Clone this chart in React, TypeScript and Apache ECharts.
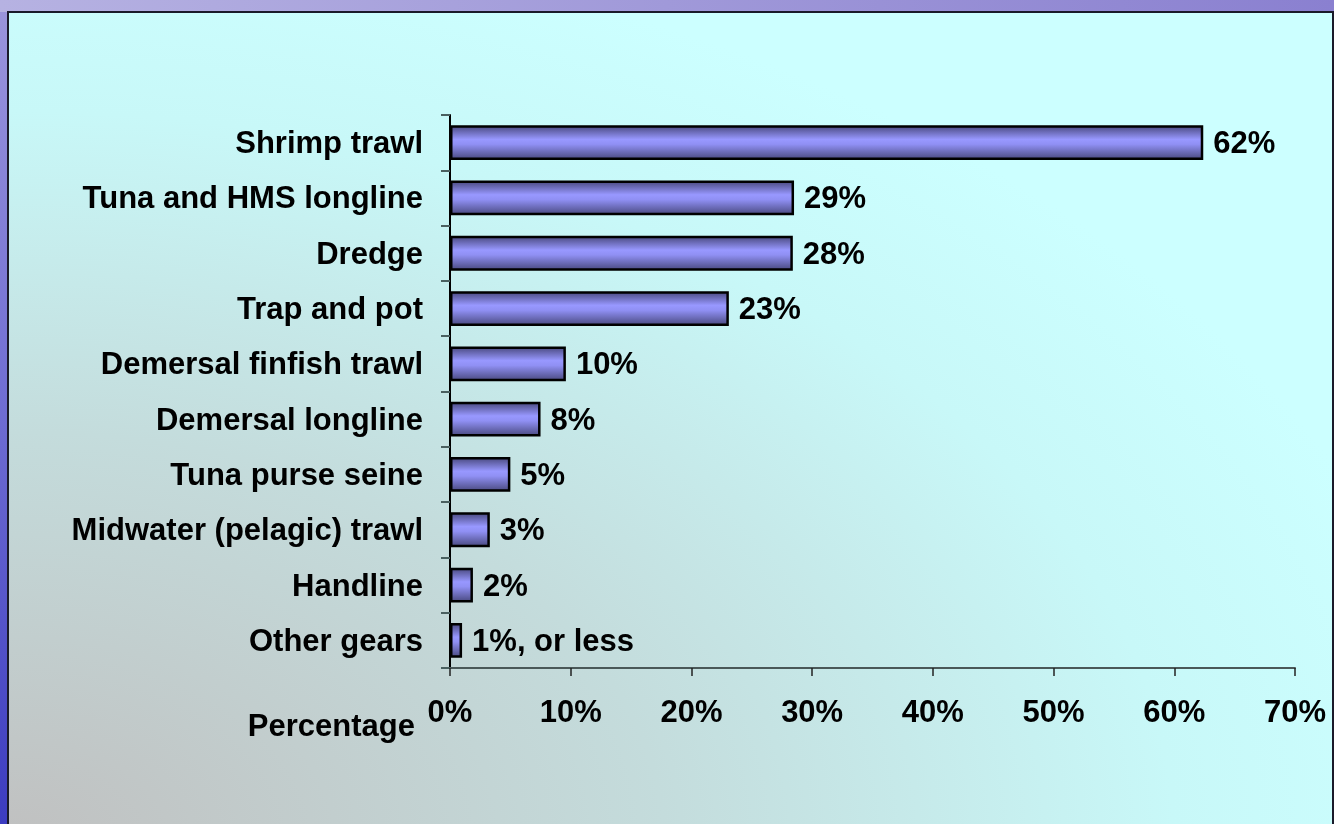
import React, { useEffect, useRef } from "react";
import * as echarts from "echarts";

const categories = [
  "Shrimp trawl",
  "Tuna and HMS longline",
  "Dredge",
  "Trap and pot",
  "Demersal finfish trawl",
  "Demersal longline",
  "Tuna purse seine",
  "Midwater (pelagic) trawl",
  "Handline",
  "Other gears",
];
const values = [62.4, 28.5, 28.4, 23.1, 9.6, 7.5, 5.0, 3.3, 1.9, 1.0];
const valueLabels = ["62%", "29%", "28%", "23%", "10%", "8%", "5%", "3%", "2%", "1%, or less"];
const xTicks = { min: 0, max: 70, interval: 10 };
const axisName = "Percentage";

const FONT = "'Liberation Sans', Arial, sans-serif";
const FS = 31;

export default function App() {
  const ref = useRef<HTMLDivElement>(null);
  useEffect(() => {
    if (!ref.current) return;
    const chart = echarts.init(ref.current, undefined, { renderer: "svg" });
    chart.setOption({
      animation: false,
      graphic: [
        {
          type: "rect",
          z: -10,
          silent: true,
          shape: { x: 0, y: 0, width: 1334, height: 824 },
          style: {
            fill: new echarts.graphic.LinearGradient(0, 0, 1, 0, [
              { offset: 0, color: "#b6b2e2" },
              { offset: 1, color: "#8a80d0" },
            ]),
          },
        },
        {
          type: "rect",
          z: -9,
          silent: true,
          shape: { x: 0, y: 12, width: 8, height: 812 },
          style: {
            fill: new echarts.graphic.LinearGradient(0, 0, 0, 1, [
              { offset: 0, color: "#9a94dc" },
              { offset: 0.5, color: "#6e6cd2" },
              { offset: 1, color: "#3c3cc0" },
            ]),
          },
        },
        {
          type: "rect",
          z: -8,
          silent: true,
          shape: { x: 8, y: 12, width: 1325, height: 830 },
          style: {
            fill: new echarts.graphic.RadialGradient(0, 1, 1.1, [
              { offset: 0, color: "#c0c0c0" },
              { offset: 0.45, color: "#c4dcdc" },
              { offset: 0.8, color: "#c8f8f8" },
              { offset: 1, color: "#ccffff" },
            ]),
            stroke: "#1a1a2a",
            lineWidth: 2,
          },
        },
        {
          type: "text",
          x: 415,
          y: 725,
          style: {
            text: axisName,
            font: `bold ${FS}px ${FONT}`,
            fill: "#000",
            align: "right",
            verticalAlign: "middle",
          },
        },
      ],
      grid: { left: 450, right: 39, top: 115, bottom: 156, containLabel: false },
      xAxis: {
        type: "value",
        min: xTicks.min,
        max: xTicks.max,
        interval: xTicks.interval,
        axisLine: { show: true, lineStyle: { color: "#4a5858", width: 2 } },
        axisTick: { show: true, length: 8, lineStyle: { color: "#222", width: 1.5 } },
        splitLine: { show: false },
        axisLabel: {
          formatter: "{value}%",
          color: "#000",
          fontFamily: FONT,
          fontWeight: "bold",
          fontSize: FS,
          margin: 28,
        },
      },
      yAxis: {
        type: "category",
        data: categories,
        inverse: true,
        axisLine: { show: true, lineStyle: { color: "#000", width: 2 } },
        axisTick: { show: true, length: 9, lineStyle: { color: "#4a6060", width: 2 } },
        axisLabel: {
          color: "#000",
          fontFamily: FONT,
          fontWeight: "bold",
          fontSize: FS,
          margin: 27,
        },
      },
      series: [
        {
          type: "bar",
          data: values,
          barCategoryGap: "37%",
          itemStyle: {
            color: new echarts.graphic.LinearGradient(0, 0, 0, 1, [
              { offset: 0, color: "#4c4c84" },
              { offset: 0.4, color: "#9898ff" },
              { offset: 0.55, color: "#9090f4" },
              { offset: 1, color: "#4c4c84" },
            ]),
            borderColor: "#000",
            borderWidth: 2.5,
          },
          label: {
            show: true,
            position: "right",
            distance: 10,
            color: "#000",
            fontFamily: FONT,
            fontWeight: "bold",
            fontSize: FS,
            formatter: (p: any) => valueLabels[p.dataIndex],
          },
        },
      ],
    });
    return () => chart.dispose();
  }, []);
  return (
    <div
      ref={ref}
      style={{ position: "fixed", left: 0, top: 0, width: 1334, height: 824 }}
    />
  );
}
